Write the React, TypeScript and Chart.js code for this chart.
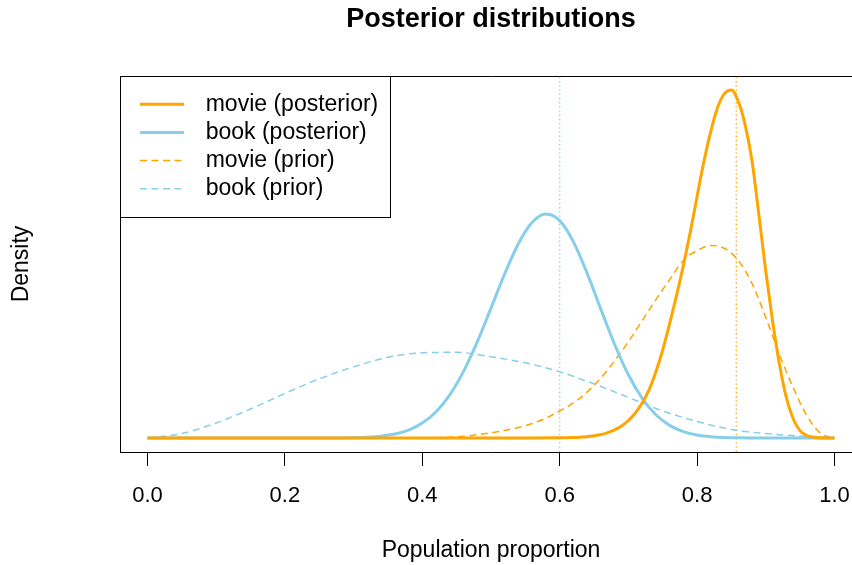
import React, { useEffect, useRef } from "react";
import { Chart, registerables } from "chart.js";

Chart.register(...registerables);

const FONT = "'Liberation Sans', Arial, Helvetica, sans-serif";

const TITLE = "Posterior distributions";
const X_LABEL = "Population proportion";
const Y_LABEL = "Density";
const X_TICKS = [0, 0.2, 0.4, 0.6, 0.8, 1.0];

const SERIES_LABELS = ["movie (posterior)", "book (posterior)", "movie (prior)", "book (prior)"];

const ORANGE = "#FFA500";
const SKY = "#87CEEB";

// movie (posterior)
const MOVIE_POST_X = [
  0, 0.3, 0.5, 0.55,
  0.6, 0.61, 0.62, 0.63, 0.64, 0.65, 0.66, 0.67, 0.68, 0.69,
  0.7, 0.71, 0.72, 0.73, 0.74, 0.75, 0.76, 0.77, 0.78, 0.79,
  0.8, 0.81, 0.82, 0.83, 0.84, 0.85, 0.86, 0.87, 0.88, 0.89,
  0.9, 0.91, 0.92, 0.93, 0.94, 0.95, 0.96, 0.97, 0.98, 0.99, 1.0,
];
const MOVIE_POST_Y = [
  0, 0, 0, 0.001,
  0.005, 0.007, 0.012, 0.021, 0.033, 0.053, 0.081, 0.128, 0.191, 0.279,
  0.407, 0.581, 0.814, 1.116, 1.535, 2.047, 2.651, 3.302, 4.0, 4.767,
  5.605, 6.419, 7.116, 7.674, 7.99, 8.07, 7.8, 7.256, 6.419, 5.163,
  3.86, 2.698, 1.698, 0.93, 0.442, 0.167, 0.058, 0.019, 0.005, 0, 0,
];

// book (posterior)
const BOOK_POST_X = [
  0, 0.2, 0.26,
  0.28, 0.3, 0.32, 0.34, 0.36, 0.38, 0.4, 0.42, 0.44, 0.46,
  0.48, 0.5, 0.52, 0.54, 0.56, 0.58, 0.6, 0.62, 0.64, 0.66,
  0.68, 0.7, 0.72, 0.74, 0.76, 0.78, 0.8, 0.82, 0.84, 0.86, 0.88,
  0.92, 1.0,
];
const BOOK_POST_Y = [
  0, 0, 0.001,
  0.003, 0.008, 0.019, 0.044, 0.093, 0.184, 0.347, 0.609, 1.002, 1.547,
  2.228, 3.012, 3.809, 4.512, 5.005, 5.195, 5.04, 4.549, 3.819, 2.984,
  2.17, 1.467, 0.923, 0.54, 0.295, 0.149, 0.07, 0.03, 0.012, 0.005, 0.001,
  0, 0,
];

// movie (prior)
const MOVIE_PRIOR_X = [
  0, 0.2, 0.3, 0.34, 0.38,
  0.4, 0.42, 0.44, 0.46, 0.48, 0.5, 0.52, 0.54, 0.56, 0.58,
  0.6, 0.62, 0.64, 0.66, 0.68, 0.7, 0.72, 0.74, 0.76, 0.78,
  0.8, 0.82, 0.84, 0.86, 0.88, 0.9, 0.92, 0.94, 0.96, 0.98, 1.0,
];
const MOVIE_PRIOR_Y = [
  0, 0, 0.001, 0.002, 0.003,
  0.005, 0.009, 0.021, 0.042, 0.077, 0.121, 0.177, 0.244, 0.337, 0.465,
  0.628, 0.814, 1.07, 1.395, 1.791, 2.233, 2.721, 3.209, 3.674, 4.116,
  4.349, 4.465, 4.395, 4.116, 3.581, 2.791, 1.93, 1.163, 0.512, 0.105, 0,
];

// book (prior)
const BOOK_PRIOR_X = [
  0, 0.05, 0.1, 0.15, 0.2, 0.25, 0.3, 0.35, 0.4, 0.45,
  0.5, 0.55, 0.6, 0.65, 0.7, 0.75, 0.8, 0.85, 0.9, 0.95, 1.0,
];
const BOOK_PRIOR_Y = [
  0, 0.105, 0.349, 0.674, 1.035, 1.372, 1.651, 1.872, 1.977, 1.988,
  1.884, 1.744, 1.535, 1.256, 0.942, 0.628, 0.384, 0.198, 0.105, 0.047, 0,
];

// vertical reference lines (book, movie)
const REF_X = [0.6, 0.857];
const REF_COLORS = [SKY, ORANGE];

const rLegend = {
  id: "rLegend",
  afterDraw(chart: any) {
    const { ctx, chartArea } = chart;
    const items = chart.data.datasets.slice(0, SERIES_LABELS.length);
    const fontSize = 23;
    const rowH = 28.2;
    ctx.save();
    ctx.font = `${fontSize}px ${FONT}`;
    const left = chartArea.left;
    const top = chartArea.top;
    const lineX0 = left + 20;
    const lineX1 = left + 64;
    const textX = left + 85.7;
    const maxW = Math.max(...items.map((d: any) => ctx.measureText(d.label).width));
    const w = textX - left + maxW + 12.2;
    const h = rowH * (items.length + 1);
    ctx.strokeStyle = "#000";
    ctx.lineWidth = 1;
    ctx.setLineDash([]);
    ctx.strokeRect(Math.round(left) + 0.5, Math.round(top) + 0.5, Math.round(w), Math.round(h));
    items.forEach((d: any, i: number) => {
      const y = top + rowH * (i + 1);
      ctx.beginPath();
      ctx.setLineDash(d.borderDash || []);
      ctx.strokeStyle = d.borderColor;
      ctx.lineWidth = d.borderWidth;
      ctx.moveTo(lineX0, y);
      ctx.lineTo(lineX1, y);
      ctx.stroke();
      ctx.setLineDash([]);
      ctx.fillStyle = "#000";
      ctx.textBaseline = "middle";
      ctx.textAlign = "left";
      ctx.fillText(d.label, textX, y);
    });
    ctx.restore();
  },
};

export default function App() {
  const ref = useRef<HTMLCanvasElement>(null);

  useEffect(() => {
    const canvas = ref.current;
    if (!canvas) return;
    Chart.defaults.font.family = FONT;
    Chart.defaults.color = "#000";

    const allY = [...MOVIE_POST_Y, ...BOOK_POST_Y, ...MOVIE_PRIOR_Y, ...BOOK_PRIOR_Y];
    const top = Math.max(...allY);
    const yLo = -0.04 * top;
    const yHi = 1.04 * top;
    const pts = (xs: number[], ys: number[]) => xs.map((x, i) => ({ x, y: ys[i] }));

    const chart = new Chart(canvas, {
      type: "line",
      data: {
        datasets: [
          { label: SERIES_LABELS[0], data: pts(MOVIE_POST_X, MOVIE_POST_Y), borderColor: ORANGE, borderWidth: 3, borderDash: [] },
          { label: SERIES_LABELS[1], data: pts(BOOK_POST_X, BOOK_POST_Y), borderColor: SKY, borderWidth: 3, borderDash: [] },
          { label: SERIES_LABELS[2], data: pts(MOVIE_PRIOR_X, MOVIE_PRIOR_Y), borderColor: ORANGE, borderWidth: 1.5, borderDash: [7, 4.5] },
          { label: SERIES_LABELS[3], data: pts(BOOK_PRIOR_X, BOOK_PRIOR_Y), borderColor: SKY, borderWidth: 1.5, borderDash: [7, 4.5] },
          ...REF_X.map((rx, i) => ({
            label: "ref" + i,
            data: [{ x: rx, y: yLo }, { x: rx, y: yHi }],
            borderColor: REF_COLORS[i],
            borderWidth: 1.3,
            borderDash: [1.4, 2.8],
            cubicInterpolationMode: "default",
          })),
        ] as any,
      },
      options: {
        responsive: false,
        animation: false,
        devicePixelRatio: 1,
        events: [],
        elements: {
          point: { radius: 0 },
          line: { cubicInterpolationMode: "monotone", fill: false },
        },
        layout: { padding: 0, autoPadding: false },
        plugins: {
          legend: { display: false },
          tooltip: { enabled: false },
          title: {
            display: true,
            text: TITLE,
            fullSize: false,
            color: "#000",
            font: { size: 27, weight: "bold", family: FONT },
            padding: { top: 3.5, bottom: 40.1 },
          },
        },
        scales: {
          x: {
            type: "linear",
            position: "bottom",
            min: -0.04,
            max: 1.04,
            afterBuildTicks: (s: any) => {
              s.ticks = X_TICKS.map((v) => ({ value: v }));
            },
            afterFit: (s: any) => {
              s.height = 113;
              s.paddingLeft = 0;
              s.paddingRight = 0;
            },
            ticks: {
              autoSkip: false,
              maxRotation: 0,
              padding: 17,
              color: "#000",
              font: { size: 22, family: FONT },
              callback: (v: any) => Number(v).toFixed(1),
            },
            grid: { display: true, drawOnChartArea: false, drawTicks: true, tickLength: 14, color: "#000", lineWidth: 1 },
            border: { display: true, color: "#000", width: 1 },
            title: { display: true, text: X_LABEL, color: "#000", font: { size: 23, family: FONT }, padding: { top: 0, bottom: 1 } },
          },
          xTop: {
            type: "linear",
            position: "top",
            min: -0.04,
            max: 1.04,
            ticks: { display: false },
            grid: { display: false, drawTicks: false },
            border: { display: true, color: "#000", width: 1 },
            afterFit: (s: any) => {
              s.height = 0;
              s.paddingLeft = 0;
              s.paddingRight = 0;
            },
          },
          y: {
            type: "linear",
            position: "left",
            min: yLo,
            max: yHi,
            ticks: { display: false },
            grid: { display: false, drawTicks: false },
            border: { display: true, color: "#000", width: 1 },
            title: { display: true, text: Y_LABEL, color: "#000", font: { size: 23, family: FONT }, padding: { top: 8.2, bottom: 0 } },
            afterFit: (s: any) => {
              s.width = 120;
              s.paddingTop = 0;
              s.paddingBottom = 0;
            },
          },
        },
      } as any,
      plugins: [rLegend],
    });
    return () => chart.destroy();
  }, []);

  return (
    <div style={{ position: "fixed", left: 0, top: 0, width: 852, height: 565, overflow: "hidden", background: "#fff" }}>
      <canvas ref={ref} width={862} height={565} style={{ display: "block" }} />
    </div>
  );
}
